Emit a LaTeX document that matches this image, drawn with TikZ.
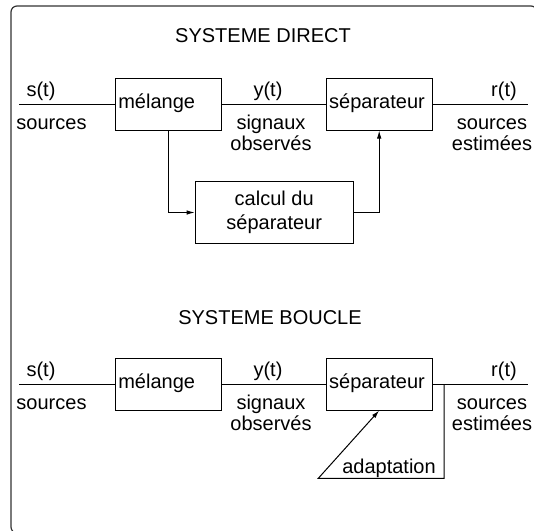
\documentclass[tikz,border=0pt]{standalone}
\usepackage{fontspec}
\setmainfont{Liberation Sans}
\usetikzlibrary{arrows.meta}

\begin{document}
\begin{tikzpicture}[x=1pt,y=-1pt,
    every node/.style={font=\fontsize{20}{24}\selectfont, inner sep=0pt},
    cadre/.style={draw, line width=1pt, align=center},
    bloc/.style={cadre, minimum width=106pt, minimum height=52pt, inner xsep=3pt,
      text width=100pt, align=left, text height=14pt, text depth=6pt},
    fil/.style={line width=1pt},
    fleche/.style={line width=1pt, -{Latex[length=8pt,width=4.5pt]}}]
  \useasboundingbox (0,0) rectangle (534,530);
  \begin{scope}
    \clip (0,0) rectangle (534,530);
    \draw[line width=1.2pt, black!80, rounded corners=6pt] (11,6) rectangle (537,533);
  \end{scope}

  % systeme direct
  \node[anchor=base] (titre1) at (263,42.5) {SYSTEME DIRECT};
  \node[bloc] (mel1) at (168.3,104) {mélange};
  \node[bloc] (sep1) at (379.2,104) {séparateur};
  \node[cadre, minimum width=158pt, minimum height=62pt,
    font=\fontsize{20}{23.5}\selectfont] (calc1) at (274.2,212.5) {calcul du\\séparateur};
  \coordinate (e1) at (19,104);
  \coordinate (s1) at (528.3,104);
  \node[anchor=base] (st1) at (41,96) {s(t)};
  \node[anchor=base] (src1) at (51.5,129.5) {sources};
  \node[anchor=base] (yt1) at (268,96) {y(t)};
  \node[anchor=base, align=center, font=\fontsize{20}{20.5}\selectfont] (obs1) at (271,150) {signaux\\observés}; % base = derniere ligne
  \node[anchor=base] (rt1) at (504,96) {r(t)};
  \node[anchor=base, align=center, font=\fontsize{20}{20.5}\selectfont] (est1) at (492,150) {sources\\estimées};
  \draw[fil] (e1) -- (mel1.west);
  \draw[fil] (mel1.east) -- (sep1.west);
  \draw[fil] (sep1.east) -- (s1);
  \draw[fleche] (mel1.south) |- (calc1.west);
  \draw[fleche] (calc1.east) -| (sep1.south);

  % systeme boucle
  \node[anchor=base] (titre2) at (270,324.3) {SYSTEME BOUCLE};
  \node[bloc] (mel2) at (168.3,384) {mélange};
  \node[bloc] (sep2) at (379.2,384) {séparateur};
  \coordinate (e2) at (19,384);
  \coordinate (s2) at (528.3,384);
  \coordinate (p2) at (444,384); % depart de l'adaptation
  \coordinate (c2) at (318.3,478.3);
  \node[anchor=base] (st2) at (41,376) {s(t)};
  \node[anchor=base] (src2) at (51.5,409.5) {sources};
  \node[anchor=base] (yt2) at (268,376) {y(t)};
  \node[anchor=base, align=center, font=\fontsize{20}{20.5}\selectfont] (obs2) at (271,430) {signaux\\observés};
  \node[anchor=base] (rt2) at (504,376) {r(t)};
  \node[anchor=base, align=center, font=\fontsize{20}{20.5}\selectfont] (est2) at (492,430) {sources\\estimées};
  \node[anchor=base] (adapt) at (389,473.3) {adaptation};
  \draw[fil] (e2) -- (mel2.west);
  \draw[fil] (mel2.east) -- (sep2.west);
  \draw[fil] (sep2.east) -- (s2);
  \draw[fleche] (p2) |- (c2) -- (sep2.south);
\end{tikzpicture}
\end{document}
